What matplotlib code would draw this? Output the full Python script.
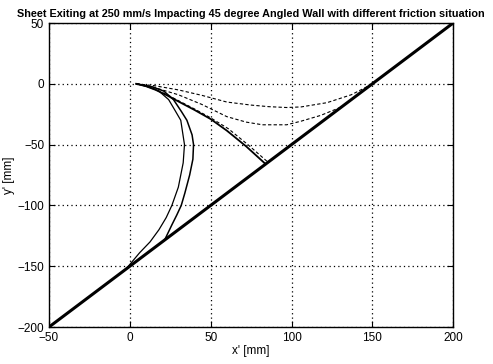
import matplotlib
matplotlib.use('Agg')
import matplotlib.pyplot as plt

plt.rcParams['font.family'] = ['Liberation Sans', 'DejaVu Sans']

# wall (45 degree)
wall_x = [-50, 200]
wall_y = [-200, 50]

# crescent curves (solid)
inner_x = [4, 12, 18, 24, 28, 31.5, 33.8, 33, 30, 26, 22.5, 18, 12.5, 6, -2.5]
inner_y = [0, -2.5, -6, -13, -22, -30, -50, -65, -85, -100, -110, -120, -130, -139, -152.5]
outer_x = [4, 14, 21, 27, 32, 35.3, 38.5, 39.4, 39, 37, 34, 31.8, 29, 26, 21.5]
outer_y = [0, -2.5, -6, -13, -23, -30, -42, -50, -62, -75, -90, -100, -108, -116, -128.5]

# nearly straight path to wall (solid + dashed)
straight_x = [4, 10, 16, 23, 30, 40, 50, 60, 72, 84]
straight_y = [0, -2, -5, -9.5, -14.5, -21.5, -29, -38.5, -51.5, -66]
straight2_x = [4, 10, 16, 23, 30, 40, 50, 61, 73, 85.5]
straight2_y = [0, -2, -4.8, -9, -13.8, -20.7, -28, -37, -50, -64.5]

# dashed curves reaching the wall further out
upper_x = [4, 15, 30, 44.6, 60, 75, 86, 97, 106, 122, 137, 149.5]
upper_y = [0, -1.5, -5, -9.5, -15, -17.5, -18.8, -19.5, -19, -15.5, -9, -0.5]
lower_x = [4, 15, 30, 44.6, 60, 72, 82, 97, 106, 118, 131]
lower_y = [0, -3, -9, -17, -27, -31.5, -33.7, -33.7, -30.7, -26, -19]

fig = plt.figure(figsize=(4.93, 3.64), dpi=100)
ax = fig.add_axes([0.0994, 0.1016, 0.8198, 0.8352])

ax.plot(wall_x, wall_y, 'k-', lw=2.2)
ax.plot(inner_x, inner_y, 'k-', lw=0.9)
ax.plot(outer_x, outer_y, 'k-', lw=1.1)
ax.plot(straight_x, straight_y, 'k-', lw=1.3)
ax.plot(straight2_x, straight2_y, 'k--', lw=0.8, dashes=(3, 2))
ax.plot(upper_x, upper_y, 'k--', lw=0.8, dashes=(3, 2))
ax.plot(lower_x, lower_y, 'k--', lw=0.8, dashes=(3, 2))

ax.set_xlim(-50, 200)
ax.set_ylim(-200, 50)
ax.set_xticks([-50, 0, 50, 100, 150, 200])
ax.set_yticks([-200, -150, -100, -50, 0, 50])
ax.grid(True, color='k', linestyle=(0, (1, 2.5)), linewidth=0.9)
ax.tick_params(direction='in', top=True, right=True, length=4, labelsize=8.5, width=0.8)
for s in ax.spines.values():
    s.set_linewidth(1.0)

ax.set_xlabel("x' [mm]", fontsize=8.5, labelpad=1)
ax.set_ylabel("y' [mm]", fontsize=8.5, labelpad=2)
ax.set_title('Sheet Exiting at 250 mm/s Impacting 45 degree Angled Wall with different friction situation',
             fontsize=7.8, fontweight='bold', pad=4)

plt.savefig('out.png', dpi=100)
